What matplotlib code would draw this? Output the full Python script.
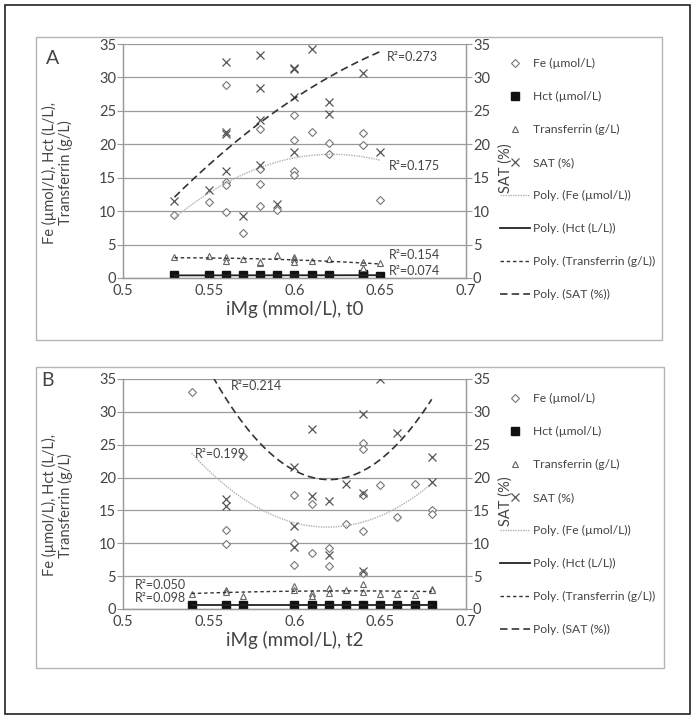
import numpy as np
import matplotlib
matplotlib.use("Agg")
import matplotlib.pyplot as plt
from matplotlib.lines import Line2D
from matplotlib.patches import Rectangle

plt.rcParams['font.family'] = ['Lato', 'DejaVu Sans']

# ---------------- data: panel A (t0) ----------------
fe_a_x = [0.53, 0.55, 0.56, 0.56, 0.56, 0.56, 0.57, 0.58, 0.58, 0.58, 0.58, 0.59,
          0.60, 0.60, 0.60, 0.60, 0.61, 0.62, 0.62, 0.64, 0.64, 0.65]
fe_a_y = [9.4, 11.4, 28.9, 14.4, 13.9, 9.9, 6.7, 22.3, 16.3, 14.1, 10.7, 10.2,
          24.4, 20.7, 16.0, 15.4, 21.9, 20.2, 18.6, 21.7, 19.9, 11.6]
# SAT values above 35 % lie off the chart (clipped), estimated from the trend line
sat_a_x = [0.53, 0.55, 0.56, 0.56, 0.56, 0.56, 0.57, 0.58, 0.58, 0.58, 0.58, 0.59,
           0.60, 0.60, 0.60, 0.60, 0.61, 0.62, 0.62, 0.64, 0.64, 0.65]
sat_a_y = [11.5, 13.1, 32.3, 21.8, 21.6, 16.0, 9.2, 33.4, 28.4, 23.6, 16.9, 11.1,
           31.4, 31.2, 27.1, 18.9, 34.3, 26.3, 24.6, 30.7, 58.0, 18.9]
tr_a_x = [0.53, 0.55, 0.56, 0.56, 0.57, 0.58, 0.58, 0.59, 0.60, 0.60, 0.60, 0.61,
          0.62, 0.64, 0.64, 0.65]
tr_a_y = [3.1, 3.3, 3.2, 2.5, 2.8, 2.3, 2.4, 3.5, 3.2, 2.9, 2.4, 2.5,
          2.9, 2.4, 1.5, 2.3]
hct_a_x = [0.53, 0.55, 0.56, 0.57, 0.58, 0.59, 0.60, 0.61, 0.62, 0.64, 0.64, 0.65]
hct_a_y = [0.4, 0.4, 0.4, 0.4, 0.4, 0.4, 0.4, 0.4, 0.4, 0.4, 0.6, 0.3]
r2_a = ["R²=0.273", "R²=0.175", "R²=0.154", "R²=0.074"]

# ---------------- data: panel B (t2) ----------------
fe_b_x = [0.54, 0.56, 0.56, 0.57, 0.60, 0.60, 0.60, 0.61, 0.61, 0.62, 0.62, 0.63,
          0.64, 0.64, 0.64, 0.64, 0.64, 0.65, 0.66, 0.67, 0.68, 0.68]
fe_b_y = [33.0, 12.0, 9.9, 23.3, 17.4, 10.1, 6.7, 16.0, 8.5, 9.3, 6.5, 12.9,
          25.3, 24.3, 17.4, 11.9, 5.5, 18.8, 14.0, 19.0, 15.0, 14.5]
sat_b_x = [0.54, 0.56, 0.56, 0.57, 0.60, 0.60, 0.60, 0.61, 0.61, 0.62, 0.62, 0.63,
           0.64, 0.64, 0.64, 0.64, 0.64, 0.65, 0.66, 0.67, 0.68, 0.68]
sat_b_y = [58.0, 16.8, 15.7, 48.0, 21.6, 12.6, 9.4, 27.4, 17.2, 16.4, 8.2, 19.0,
           40.0, 38.0, 29.6, 17.7, 5.8, 35.0, 26.8, 36.0, 23.1, 19.4]
tr_b_x = [0.54, 0.56, 0.56, 0.57, 0.60, 0.60, 0.61, 0.61, 0.62, 0.62, 0.63, 0.64,
          0.64, 0.65, 0.66, 0.67, 0.68, 0.68]
tr_b_y = [2.25, 2.95, 2.6, 1.95, 3.45, 2.85, 2.45, 2.0, 3.2, 2.5, 2.85, 3.8,
          2.65, 2.25, 2.3, 2.1, 3.1, 2.85]
hct_b_x = [0.54, 0.56, 0.57, 0.60, 0.61, 0.62, 0.63, 0.64, 0.65, 0.66, 0.67, 0.68]
hct_b_y = [0.6, 0.6, 0.6, 0.6, 0.6, 0.6, 0.6, 0.6, 0.6, 0.6, 0.6, 0.6]
r2_b = ["R²=0.214", "R²=0.199", "R²=0.050", "R²=0.098"]

x_ticks = [0.5, 0.55, 0.6, 0.65, 0.7]
x_tick_labels = ["0.5", "0.55", "0.6", "0.65", "0.7"]
y_ticks = [0, 5, 10, 15, 20, 25, 30, 35]

legend_labels = ["Fe (µmol/L)", "Hct (µmol/L)", "Transferrin (g/L)", "SAT (%)",
                 "Poly. (Fe (µmol/L))", "Poly. (Hct (L/L))",
                 "Poly. (Transferrin (g/L))", "Poly. (SAT (%))"]

W, H = 695, 719
fig = plt.figure(figsize=(W / 100, H / 100), dpi=100)
fig.patch.set_facecolor("white")

def fx(px):
    return px / W

def fy(py):
    return 1 - py / H

# outer frame and panel boxes
fig.patches.append(Rectangle((fx(5), fy(714)), fx(685), 709 / H, transform=fig.transFigure,
                             fill=False, edgecolor="#222222", linewidth=1.2))
fig.patches.append(Rectangle((fx(36), fy(340)), fx(626), 303 / H, transform=fig.transFigure,
                             fill=False, edgecolor="#b5b5b5", linewidth=1.0))
fig.patches.append(Rectangle((fx(36), fy(668)), fx(628), 301 / H, transform=fig.transFigure,
                             fill=False, edgecolor="#b5b5b5", linewidth=1.0))

GRAY = "#9a9a9a"
TXT = "#444444"

fe_style = dict(marker="D", ms=3.6, mfc="white", mec="#777777", mew=0.8, ls="none")
hct_style = dict(marker="s", ms=5.3, mfc="#111111", mec="#111111", ls="none")
tr_style = dict(marker="^", ms=4.5, mfc="white", mec="#666666", mew=0.8, ls="none")
sat_style = dict(marker="x", ms=6, mec="#555555", mew=0.9, ls="none")
poly_fe = dict(color="#b0b0b0", lw=1.0, ls=(0, (1, 0.8)))
poly_hct = dict(color="#222222", lw=1.3, ls="-")
poly_tr = dict(color="#333333", lw=1.0, ls=(0, (2.5, 2)))
poly_sat = dict(color="#333333", lw=1.2, ls=(0, (4.5, 2.5)))


def trend(ax, xs, ys, style):
    xs = np.asarray(xs, float)
    ys = np.asarray(ys, float)
    c = np.polyfit(xs, ys, 2)
    xx = np.linspace(xs.min(), xs.max(), 200)
    ax.plot(xx, np.polyval(c, xx), zorder=4, **style)


def panel(top, bottom, letter, letter_pos, data, r2, r2_pos, xlabel, leg_top):
    fe_x, fe_y, hct_x, hct_y, tr_x, tr_y, sat_x, sat_y = data
    ax = fig.add_axes([fx(123), fy(bottom), fx(466 - 123), (bottom - top) / H])
    ax2 = ax.twinx()
    for a in (ax, ax2):
        a.set_xlim(0.5, 0.7)
        a.set_ylim(0, 35)
        a.set_yticks(y_ticks)
        for s in ("left", "right", "bottom"):
            a.spines[s].set_color(GRAY)
            a.spines[s].set_linewidth(0.9)
        a.spines["top"].set_visible(False)
        a.tick_params(axis="both", colors=GRAY, labelcolor=TXT, labelsize=10.5,
                      length=4, width=0.8, pad=1)
    ax.set_xticks(x_ticks)
    ax.set_xticklabels(x_tick_labels)
    ax.tick_params(axis="x", length=0, pad=4)
    ax.yaxis.grid(True, color=GRAY, lw=0.9)
    ax.set_axisbelow(True)

    ax.plot(fe_x, fe_y, zorder=3, **fe_style)
    ax.plot(hct_x, hct_y, zorder=3, **hct_style)
    ax.plot(tr_x, tr_y, zorder=3, **tr_style)
    ax2.plot(sat_x, sat_y, zorder=3, **sat_style)
    trend(ax, fe_x, fe_y, poly_fe)
    trend(ax, hct_x, hct_y, poly_hct)
    trend(ax, tr_x, tr_y, poly_tr)
    trend(ax2, sat_x, sat_y, poly_sat)

    for t, (xp, yp) in zip(r2, r2_pos):
        ax2.text(xp, yp, t, fontsize=9, color=TXT, ha="left", va="center")

    ax.set_xlabel(xlabel, fontsize=13.5, color=TXT, labelpad=2)
    ax.set_ylabel("Fe (µmol/L), Hct (L/L),\nTransferrin (g/L)", fontsize=10.5,
                  color=TXT, linespacing=1.1)
    ax.yaxis.set_label_coords(-0.145, 0.45)
    ax2.set_ylabel("SAT (%)", fontsize=10.5, color=TXT, rotation=90)
    ax2.yaxis.set_label_coords(1.095, 0.47)

    fig.text(fx(letter_pos[0]), fy(letter_pos[1]), letter, fontsize=14, color=TXT,
             ha="left", va="center")

    handles = [Line2D([], [], **fe_style), Line2D([], [], **hct_style),
               Line2D([], [], **tr_style), Line2D([], [], **sat_style),
               Line2D([], [], **poly_fe), Line2D([], [], **poly_hct),
               Line2D([], [], **poly_tr), Line2D([], [], **poly_sat)]
    leg = fig.legend(handles, legend_labels, loc="upper left",
                     bbox_to_anchor=(fx(500), fy(leg_top)), frameon=False,
                     fontsize=8.7, handlelength=2.5, handletextpad=0.25,
                     labelspacing=1.82, borderaxespad=0, borderpad=0)
    for t in leg.get_texts():
        t.set_color(TXT)
    return ax, ax2


panel(44, 278, "A", (46, 58),
      (fe_a_x, fe_a_y, hct_a_x, hct_a_y, tr_a_x, tr_a_y, sat_a_x, sat_a_y),
      r2_a, [(0.654, 33.1), (0.655, 16.7), (0.655, 3.4), (0.655, 1.0)],
      "iMg (mmol/L), t0", 58)

panel(379, 609, "B", (41, 380),
      (fe_b_x, fe_b_y, hct_b_x, hct_b_y, tr_b_x, tr_b_y, sat_b_x, sat_b_y),
      r2_b, [(0.563, 33.9), (0.542, 23.6), (0.507, 3.6), (0.507, 1.6)],
      "iMg (mmol/L), t2", 393)

fig.savefig("out.png", dpi=100)
